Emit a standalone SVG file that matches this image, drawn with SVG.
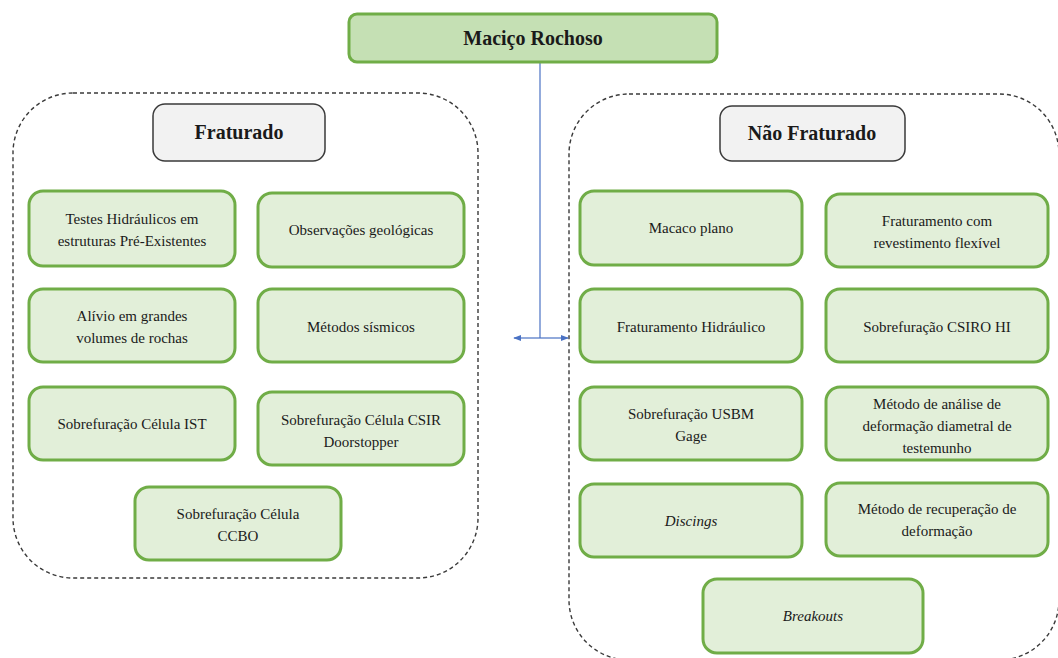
<svg xmlns="http://www.w3.org/2000/svg" width="1058" height="658" viewBox="0 0 1058 658" font-family="Liberation Serif, DejaVu Serif, serif">
<defs>
<style>
.grp{fill:none;stroke:#3a3a3a;stroke-width:1.4;stroke-dasharray:4 3}
.top{fill:#c5e0b4;stroke:#70ad47;stroke-width:3}
.hdr{fill:#f2f2f2;stroke:#3a3a3a;stroke-width:1.5}
.box{fill:#e2efd9;stroke:#70ad47;stroke-width:3}
.t{font-size:15px;fill:#1a1a1a;text-anchor:middle}
.h{font-size:20px;font-weight:bold;fill:#1a1a1a;text-anchor:middle}
.i{font-style:italic}
.c{stroke:#4a72c4;stroke-width:1.2;fill:none}
</style>
<marker id="ah" viewBox="0 0 10 10" refX="9" refY="5" markerWidth="8" markerHeight="8" orient="auto-start-reverse" markerUnits="userSpaceOnUse">
<path d="M0,1 L10,5 L0,9 z" fill="#4a72c4"/>
</marker>
</defs>
<rect width="1058" height="658" fill="#ffffff"/>

<g id="grupo-fraturado"><rect class="grp" x="13" y="93" width="465" height="485" rx="60"/></g>
<g id="grupo-nao-fraturado"><rect class="grp" x="569" y="94" width="490" height="566" rx="60"/></g>

<g id="connectors">
<path class="c" d="M540,63 V338"/>
<path class="c" d="M540,338 H514" marker-end="url(#ah)"/>
<path class="c" d="M540,338 H568" marker-end="url(#ah)"/>
</g>

<g id="macico"><rect class="top" x="349" y="14" width="368" height="48" rx="8"/><text class="h" x="533" y="45">Maciço Rochoso</text></g>

<g id="fraturado"><rect class="hdr" x="153" y="104" width="172" height="57" rx="12"/><text class="h" x="239" y="139">Fraturado</text></g>
<g id="nao-fraturado"><rect class="hdr" x="720" y="106" width="185" height="55" rx="12"/><text class="h" x="812" y="140">Não Fraturado</text></g>

<g id="testes"><rect class="box" x="29" y="191" width="206" height="75" rx="14"/><text class="t" x="132" y="224">Testes Hidráulicos em</text><text class="t" x="132" y="246">estruturas Pré-Existentes</text></g>
<g id="observacoes"><rect class="box" x="258" y="193" width="206" height="74" rx="14"/><text class="t" x="361" y="235">Observações geológicas</text></g>
<g id="alivio"><rect class="box" x="29" y="289" width="206" height="73" rx="14"/><text class="t" x="132" y="321">Alívio em grandes</text><text class="t" x="132" y="343">volumes de rochas</text></g>
<g id="sismicos"><rect class="box" x="258" y="289" width="206" height="73" rx="14"/><text class="t" x="361" y="332">Métodos sísmicos</text></g>
<g id="ist"><rect class="box" x="29" y="387" width="206" height="73" rx="14"/><text class="t" x="132" y="429">Sobrefuração Célula IST</text></g>
<g id="csir"><rect class="box" x="258" y="392" width="206" height="73" rx="14"/><text class="t" x="361" y="425">Sobrefuração Célula CSIR</text><text class="t" x="361" y="447">Doorstopper</text></g>
<g id="ccbo"><rect class="box" x="135" y="487" width="206" height="73" rx="14"/><text class="t" x="238" y="519">Sobrefuração Célula</text><text class="t" x="238" y="541">CCBO</text></g>

<g id="macaco"><rect class="box" x="580" y="191" width="222" height="74" rx="14"/><text class="t" x="691" y="233">Macaco plano</text></g>
<g id="revestimento"><rect class="box" x="826" y="194" width="222" height="73" rx="14"/><text class="t" x="937" y="226">Fraturamento com</text><text class="t" x="937" y="248">revestimento flexível</text></g>
<g id="hidraulico"><rect class="box" x="580" y="289" width="222" height="73" rx="14"/><text class="t" x="691" y="332">Fraturamento Hidráulico</text></g>
<g id="csiro"><rect class="box" x="826" y="289" width="222" height="73" rx="14"/><text class="t" x="937" y="332">Sobrefuração CSIRO HI</text></g>
<g id="usbm"><rect class="box" x="580" y="387" width="222" height="73" rx="14"/><text class="t" x="691" y="419">Sobrefuração USBM</text><text class="t" x="691" y="441">Gage</text></g>
<g id="diametral"><rect class="box" x="826" y="387" width="222" height="73" rx="14"/><text class="t" x="937" y="409">Método de análise de</text><text class="t" x="937" y="431">deformação diametral de</text><text class="t" x="937" y="453">testemunho</text></g>
<g id="discings"><rect class="box" x="580" y="484" width="222" height="73" rx="14"/><text class="t i" x="691" y="526">Discings</text></g>
<g id="recuperacao"><rect class="box" x="826" y="483" width="222" height="73" rx="14"/><text class="t" x="937" y="514">Método de recuperação de</text><text class="t" x="937" y="536">deformação</text></g>
<g id="breakouts"><rect class="box" x="703" y="579" width="220" height="74" rx="14"/><text class="t i" x="813" y="621">Breakouts</text></g>
</svg>
